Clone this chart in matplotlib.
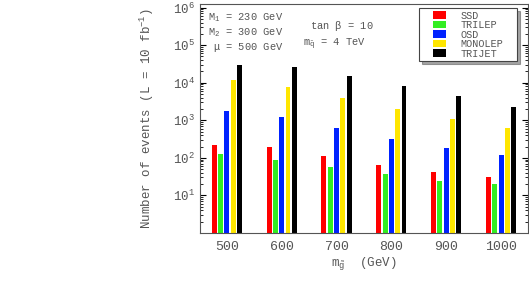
import numpy as np
import matplotlib
matplotlib.use("Agg")
import matplotlib.pyplot as plt
from matplotlib.patches import Rectangle
from matplotlib.container import BarContainer
from matplotlib.legend_handler import HandlerPatch
from matplotlib.ticker import LogLocator, LogFormatterMathtext, NullFormatter

plt.rcParams["font.family"] = ["Liberation Mono", "DejaVu Sans"]
plt.rcParams["mathtext.fontset"] = "custom"
plt.rcParams["mathtext.rm"] = "Liberation Mono"
plt.rcParams["mathtext.it"] = "Liberation Mono"
plt.rcParams["mathtext.bf"] = "Liberation Mono"

# ── Dados ────────────────────────────────────────────────────────────────────
m_gluino = [500, 600, 700, 800, 900, 1000]
canais = ["SSD", "TRILEP", "OSD", "MONOLEP", "TRIJET"]
cores = ["#ff0000", "#33ee22", "#0022ff", "#ffe600", "#000000"]

ssd     = [215, 195, 115, 66, 41, 30]
trilep  = [128, 90, 56, 36, 24.5, 19.5]
osd     = [1800, 1200, 630, 320, 180, 120]
monolep = [12000, 7700, 4000, 2000, 1050, 630]
trijet  = [29000, 26000, 15000, 8000, 4300, 2300]
series = [ssd, trilep, osd, monolep, trijet]

# ── Gráfico ──────────────────────────────────────────────────────────────────
fig = plt.figure(figsize=(5.29, 2.83), dpi=100)
ax = fig.add_axes([0.378, 0.177, 0.620, 0.809])

passo = 11.5
larg = 9.0
x = np.array(m_gluino, dtype=float)
for i, (vals, cor, nome) in enumerate(zip(series, cores, canais)):
    ax.bar(x + (i - 2) * passo, vals, width=larg, color=cor, label=nome)

ax.set_yscale("log")
ax.set_ylim(1, 1.25e6)
ax.set_xlim(451, 1049)
ax.set_xticks(m_gluino)
ax.yaxis.set_minor_locator(LogLocator(base=10, subs=np.arange(2, 10), numticks=20))
ax.yaxis.set_major_formatter(LogFormatterMathtext())
ax.yaxis.set_minor_formatter(NullFormatter())
ax.set_yticks([10, 100, 1e3, 1e4, 1e5, 1e6])

ax.tick_params(axis="y", which="both", direction="in", right=True,
               labelsize=9, labelcolor="#555555")
ax.tick_params(axis="y", which="major", length=4)
ax.tick_params(axis="y", which="minor", length=2)
ax.tick_params(axis="x", direction="in", length=0, labelsize=9.5,
               labelcolor="#555555", pad=6)
for s in ax.spines.values():
    s.set_color("#555555")
    s.set_linewidth(0.8)

ax.set_ylabel(r"Number of events (L = 10 fb$^{-1}$)", fontsize=9,
              color="#555555", labelpad=12)
ax.set_xlabel(r"m$_{\tilde{g}}$  (GeV)", fontsize=9, color="#555555",
              labelpad=1)

txt = dict(fontsize=7.5, color="#555555", transform=ax.transAxes)
ax.text(0.255, 0.94, r"M$_1$ = 230 GeV", ha="right", va="center", **txt)
ax.text(0.255, 0.875, r"M$_2$ = 300 GeV", ha="right", va="center", **txt)
ax.text(0.255, 0.81, r"$\mu$ = 500 GeV", ha="right", va="center", **txt)
ax.text(0.335, 0.905, r"tan $\beta$ = 10", ha="left", va="center", **txt)
ax.text(0.315, 0.825, r"m$_{\tilde{q}}$ = 4 TeV", ha="left", va="center", **txt)


# quadradinho da legenda deslocado para a direita, como no original
def caixa(legend, orig_handle, xdescent, ydescent, width, height, fontsize):
    return Rectangle((-xdescent + 0.45 * width, -ydescent), 0.55 * width, height)


def cor_da_barra(handle, orig):
    handle.update_from(orig.patches[0])


leg = ax.legend(loc="upper left", bbox_to_anchor=(0.668, 0.773, 0.298, 0.209),
                mode="expand", fontsize=7.3, frameon=True, fancybox=False,
                shadow=True, handlelength=2.4, handleheight=0.8,
                handletextpad=1.4, borderpad=0.25, labelspacing=-0.05,
                borderaxespad=0,
                handler_map={BarContainer: HandlerPatch(patch_func=caixa,
                                                        update_func=cor_da_barra)})
leg.get_frame().set_edgecolor("#444444")
leg.get_frame().set_linewidth(0.8)
for t in leg.get_texts():
    t.set_color("#555555")

fig.savefig("out.png", dpi=100)
